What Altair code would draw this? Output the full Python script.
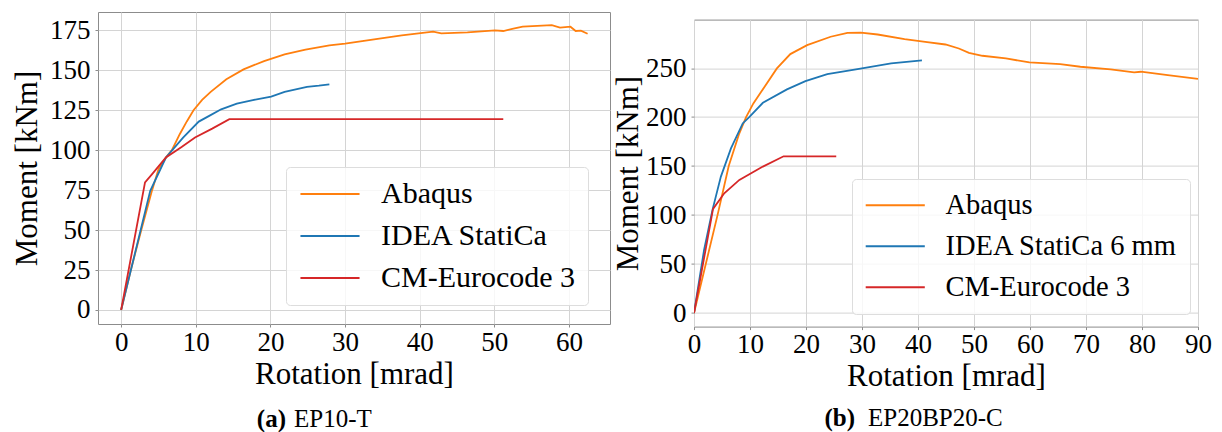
import altair as alt
import pandas as pd

# ---------------- data: panel (a) EP10-T ----------------
a_abaqus_x = [0, 1.3, 2.7, 4.15, 5.0, 6.1, 6.8, 7.85, 8.8, 9.7, 10.85, 12.0, 14.1, 16.4, 19.15, 21.9,
              24.7, 27.9, 30.0, 33.9, 37.6, 41.8, 42.9, 46.4, 50.1, 51.2, 52.4, 53.8, 57.7, 58.8,
              60.2, 60.9, 61.6, 62.5]
a_abaqus_y = [0, 25, 50, 75, 88, 96, 100, 110, 118, 125, 131.5, 136.5, 144.4, 150.6, 155.8, 160,
              163, 165.6, 166.7, 169.4, 171.9, 174.2, 173.1, 173.75, 175, 174.6, 176, 177.3, 178.3, 176.7,
              177.3, 174.6, 174.8, 172.9]
a_idea_x = [0, 3.9, 6.0, 8.3, 10.4, 11.8, 13.4, 15.5, 17.8, 20.1, 21.9, 24.9, 26.5, 27.9]
a_idea_y = [0, 74.6, 95.4, 107.9, 117.9, 121.5, 125.6, 129.2, 131.5, 133.5, 136.5, 139.6, 140.4, 141.25]
a_cm_x = [0, 3.2, 4.15, 6.0, 8.1, 9.9, 12.2, 14.5, 51.2]
a_cm_y = [0, 79.8, 85, 95.4, 102, 108, 113.5, 119.4, 119.4]
a_names = ["Abaqus", "IDEA StatiCa", "CM-Eurocode 3"]

# ---------------- data: panel (b) EP20BP20-C ----------------
b_abaqus_x = [0, 4.2, 6.2, 8.0, 9.3, 10.6, 12.0, 14.8, 17.2, 20.2, 24.4, 27.4, 29.8, 32.8, 37.6, 41.3,
              44.9, 47.3, 49.1, 51.5, 55.7, 59.9, 65.4, 69, 74.4, 78.6, 79.8, 84.6, 90]
b_abaqus_y = [0, 100, 150, 182, 200, 214, 225.8, 249.7, 264.3, 273.4, 282, 286, 286.3, 284.3, 279.6, 276.8,
              274.1, 270, 265.6, 262.6, 259.9, 255.8, 254.1, 251.4, 248.6, 245.6, 246.3, 242.9, 239.1]
b_idea_x = [0, 1.8, 3.3, 4.8, 6.6, 8.7, 9.9, 12.3, 16.6, 19.9, 23.8, 29.2, 35.2, 40.7]
b_idea_y = [0, 64.5, 105.3, 139.3, 168.1, 193.5, 200.3, 214.6, 228.3, 236.7, 243.9, 249, 254.8, 257.8]
b_cm_x = [0, 3.4, 5.4, 8.1, 12.3, 16.0, 25.4]
b_cm_y = [0, 106.3, 122.3, 135.9, 149.5, 160, 160]
b_names = ["Abaqus", "IDEA StatiCa 6 mm", "CM-Eurocode 3"]

a_xticks = [0, 10, 20, 30, 40, 50, 60]
a_yticks = [0, 25, 50, 75, 100, 125, 150, 175]
b_xticks = [0, 10, 20, 30, 40, 50, 60, 70, 80, 90]
b_yticks = [0, 50, 100, 150, 200, 250]

COLORS = ["#ff7f0e", "#1f77b4", "#d62728"]
FONT = "Liberation Serif"


def make_df(names, xs_list, ys_list):
    rows = []
    for name, xs, ys in zip(names, xs_list, ys_list):
        for i, (x, y) in enumerate(zip(xs, ys)):
            rows.append({"series": name, "x": x, "y": y, "order": i})
    return pd.DataFrame(rows)


def axis(ticks, title, tpad, lpad):
    return alt.Axis(values=ticks, title=title, format="d", labelFont=FONT, labelFontSize=27,
                    labelColor="black", titleFont=FONT, titleFontSize=31, titleFontWeight="normal",
                    titleColor="black", titlePadding=tpad, labelPadding=lpad, tickSize=3,
                    labelFlush=False, labelOverlap=False,
                    tickColor="#8c8c8c", grid=True, gridColor="#d4d4d4", gridWidth=1, domain=False)


def panel(df, names, xdom, ydom, xticks, yticks, w, h, legx, legy, rowpad, legfont, cap_bold, cap_rest,
          cap_bx, cap_rx, cap_y, ytpad):
    lines = alt.Chart(df).mark_line(strokeWidth=1.8, clip=True).encode(
        x=alt.X("x:Q", scale=alt.Scale(domain=xdom, nice=False, zero=False),
                axis=axis(xticks, "Rotation [mrad]", 4, 2)),
        y=alt.Y("y:Q", scale=alt.Scale(domain=ydom, nice=False, zero=False),
                axis=axis(yticks, "Moment [kNm]", ytpad, 5)),
        color=alt.Color("series:N", scale=alt.Scale(domain=names, range=COLORS),
                        legend=alt.Legend(orient="none", legendX=legx, legendY=legy, title=None,
                                          symbolType="M-3,0H3", symbolSize=388,
                                          symbolStrokeWidth=2.2, symbolOffset=17,
                                          labelFont=FONT, labelFontSize=legfont, labelOffset=36,
                                          labelColor="black",
                                          labelLimit=500, rowPadding=rowpad, padding=12,
                                          fillColor="rgba(255,255,255,0.8)",
                                          strokeColor="#dddddd", cornerRadius=4)),
        order="order:Q",
    )
    capdf = pd.DataFrame({"b": [cap_bold], "r": [cap_rest]})
    cap1 = alt.Chart(capdf).mark_text(font=FONT, fontSize=25, fontWeight="bold", align="right",
                                      baseline="middle", color="black").encode(
        text="b:N", x=alt.value(cap_bx), y=alt.value(cap_y))
    cap2 = alt.Chart(capdf).mark_text(font=FONT, fontSize=25, align="left",
                                      baseline="middle", color="black").encode(
        text="r:N", x=alt.value(cap_rx), y=alt.value(cap_y))
    return alt.layer(lines, cap1, cap2).properties(width=w, height=h)


df_a = make_df(a_names, [a_abaqus_x, a_idea_x, a_cm_x], [a_abaqus_y, a_idea_y, a_cm_y])
df_b = make_df(b_names, [b_abaqus_x, b_idea_x, b_cm_x], [b_abaqus_y, b_idea_y, b_cm_y])

pa = panel(df_a, a_names, [-3.1, 65.5], [-8.8, 186.5], a_xticks, a_yticks, 512, 312,
           188, 155, 12, 30, "(a)", "EP10-T", 188, 196, 407, 6)
pb = panel(df_b, b_names, [0, 90], [-13.8, 299.5], b_xticks, b_yticks, 504, 307,
           158, 167, 12, 28.5, "(b)", "EP20BP20-C", 161, 174, 398, 1)

# invisible spacer that pushes panel (b) a little lower than panel (a)
spacer = alt.Chart(pd.DataFrame({"v": [0]})).mark_rule(strokeOpacity=0).encode(
    x=alt.value(0), x2=alt.value(10), y=alt.value(0)
).properties(width=504, height=1,
             view=alt.ViewBackground(stroke="transparent", strokeOpacity=0, strokeWidth=0))

right = alt.vconcat(spacer, pb, spacing=5.6)

chart = alt.hconcat(pa, right, spacing=1).resolve_scale(color="independent").properties(
    padding={"left": 3, "top": 3, "right": 0, "bottom": 0}
).configure(font=FONT).configure_view(stroke="#8c8c8c", strokeWidth=1)

chart.save("out.html", embed_options={"renderer": "svg", "actions": False})
